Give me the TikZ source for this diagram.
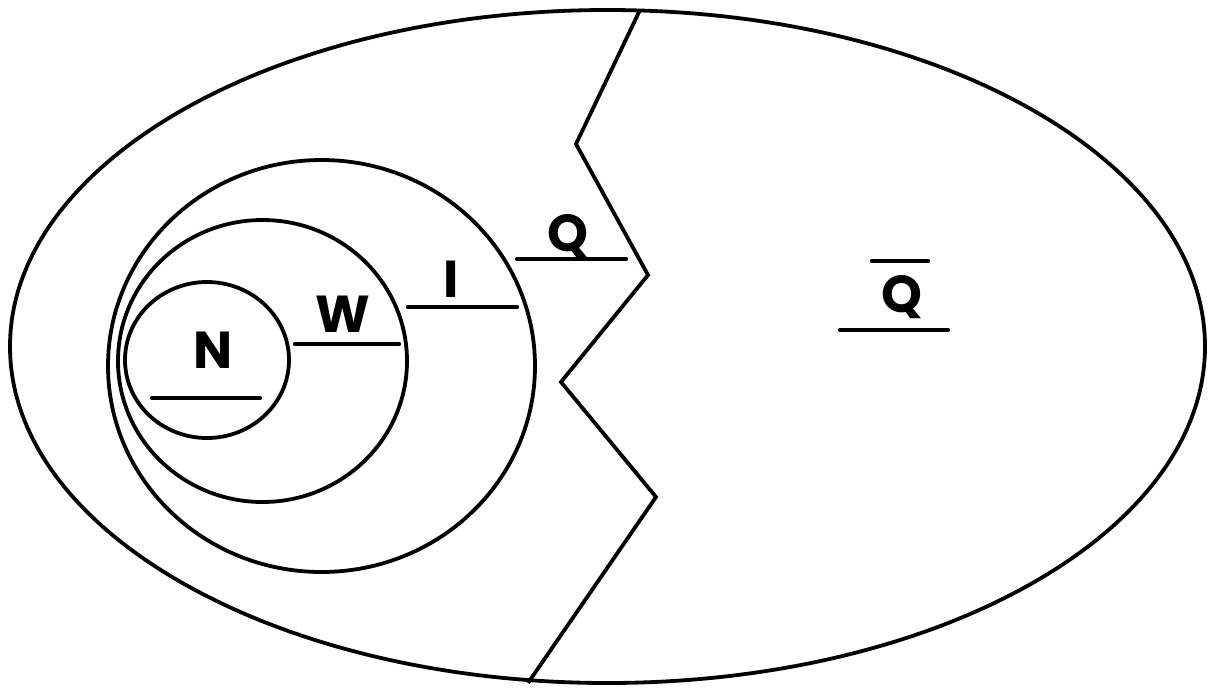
\documentclass[tikz,border=0pt]{standalone}
\usepackage{fontspec}
\setmainfont{Poppins}
\begin{document}
\begin{tikzpicture}[x=1pt,y=-1pt,
  ring/.style={line width=3.8pt},
  bar/.style={line width=4.2pt,line cap=round},
  letter/.style={font=\fontsize{52}{52}\selectfont\bfseries,anchor=base,inner sep=0pt}]
\useasboundingbox (0,0) rectangle (1208,689);
% outer ellipse
\draw[ring] (607.5,346.5) ellipse [x radius=597.5, y radius=336.5];
% nested sets
\draw[ring] (321.5,366) ellipse [x radius=213.5, y radius=206];
\draw[ring] (262.5,361) ellipse [x radius=144.5, y radius=141];
\draw[ring] (207,360) ellipse [x radius=82, y radius=78];
% zigzag boundary
\draw[ring,line join=miter] (640,10) -- (576,144) -- (648,275) -- (561,382) -- (656,497) -- (528,683);
% labels
\node[letter] (Q) at (568,251) {Q};
\draw[bar] (517,259) -- (626,259);
\node[letter] (I) at (451,297) {I};
\draw[bar] (408,307) -- (517,307);
\node[letter] (W) at (343,332) {W};
\draw[bar] (295,344) -- (399,344);
\node[letter] (N) at (213,368) {N};
\draw[bar] (152,398) -- (260,398);
\node[letter] (Qbar) at (902,312) {Q};
\draw[bar] (872,261) -- (928,261);
\draw[bar] (840,330) -- (948,330);
\end{tikzpicture}
\end{document}
